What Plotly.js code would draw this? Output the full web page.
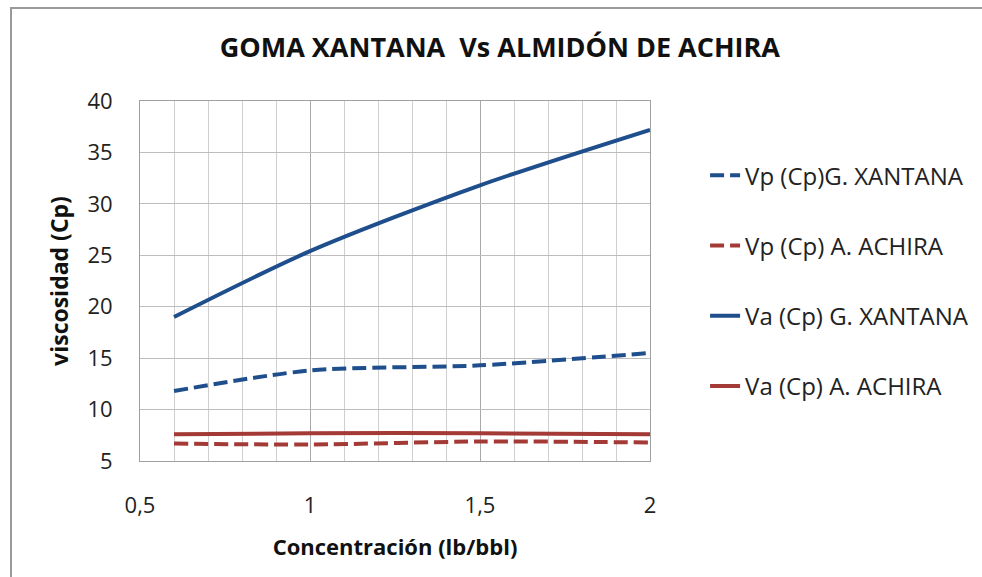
<!DOCTYPE html>
<html>
<head>
<meta charset="utf-8">
<script src="https://cdn.plot.ly/plotly-3.0.1.min.js"></script>
<style>
  html, body { margin: 0; padding: 0; background: #ffffff; }
  #wrap { position: relative; width: 982px; height: 577px; overflow: hidden; }
  #chart { position: absolute; left: 0; top: 0; width: 982px; height: 577px; }
  #frame { position: absolute; left: 10px; top: 7px; width: 990px; height: 600px;
           border-left: 2px solid #9a9a9a; border-top: 2px solid #9a9a9a; pointer-events: none; }
</style>
</head>
<body>
<div id="wrap">
  <div id="chart"></div>
  <div id="frame"></div>
</div>
<script>
// Data
const concentracion = [0.6, 1.0, 1.5, 2.0];
const vpXantana = [11.8, 13.8, 14.3, 15.5];
const vpAchira  = [6.7, 6.6, 6.9, 6.8];
const vaXantana = [19.0, 25.4, 31.8, 37.2];
const vaAchira  = [7.6, 7.7, 7.7, 7.6];
const seriesNames = ["Vp (Cp)G. XANTANA", "Vp (Cp) A. ACHIRA", "Va (Cp) G. XANTANA", "Va (Cp) A. ACHIRA"];
const xTicks = [0.5, 1, 1.5, 2];
const yTicks = [5, 10, 15, 20, 25, 30, 35, 40];

const BLUE = "#1f4e8c";
const RED = "#a33a35";
const FONT = "'Open Sans', Lato, sans-serif";

function trace(y, name, color, dash, grp) {
  return {
    x: concentracion, y: y, name: name, type: "scatter", mode: "lines",
    legendgroup: grp,
    line: { color: color, width: 4, dash: dash, shape: "spline", smoothing: 0.8 },
    hoverinfo: "skip"
  };
}

const data = [
  trace(vpXantana, seriesNames[0], BLUE, "14px,6px", "a"),
  trace(vpAchira,  seriesNames[1], RED,  "14px,6px", "b"),
  trace(vaXantana, seriesNames[2], BLUE, "solid", "c"),
  trace(vaAchira,  seriesNames[3], RED,  "solid", "d")
];

const layout = {
  width: 982, height: 577,
  margin: { l: 140, r: 332, t: 101, b: 116, pad: 0, autoexpand: false },
  paper_bgcolor: "#ffffff", plot_bgcolor: "#ffffff",
  separators: ",.",
  font: { family: FONT, size: 18, color: "#222222" },
  title: {
    text: "<b>GOMA XANTANA  Vs ALMIDÓN DE ACHIRA</b>",
    font: { family: FONT, size: 27, color: "#111111" },
    x: 0.509, xanchor: "center", y: 0.918, yanchor: "middle", xref: "container", yref: "container"
  },
  xaxis: {
    range: [0.5, 2], tickvals: xTicks, ticks: "", ticklabelstandoff: 25,
    showgrid: true, gridcolor: "#a9a9a9", gridwidth: 1,
    minor: { dtick: 0.1, showgrid: true, gridcolor: "#cfcfcf", gridwidth: 1, ticks: "" },
    showline: true, linecolor: "#a0a0a0", linewidth: 1, mirror: true,
    zeroline: false, fixedrange: true,
    tickfont: { family: FONT, size: 22, color: "#222222" },
    title: { text: "<b>Concentración (lb/bbl)</b>", font: { family: FONT, size: 22, color: "#111111" }, standoff: 21 }
  },
  yaxis: {
    range: [5, 40], tickvals: yTicks, ticks: "", ticklabelstandoff: 22,
    showgrid: true, gridcolor: "#bdbdbd", gridwidth: 1,
    showline: true, linecolor: "#a0a0a0", linewidth: 1, mirror: true,
    zeroline: false, fixedrange: true,
    tickfont: { family: FONT, size: 22, color: "#222222" },
    title: { text: "<b>viscosidad (Cp)</b>", font: { family: FONT, size: 23, color: "#111111" }, standoff: 12 }
  },
  showlegend: true,
  legend: {
    x: 1.108, xanchor: "left", y: 0.855, yanchor: "top",
    font: { family: FONT, size: 24, color: "#222222" },
    tracegroupgap: 36, traceorder: "grouped",
    bgcolor: "rgba(0,0,0,0)", borderwidth: 0, itemwidth: 30
  }
};

Plotly.newPlot("chart", data, layout, { displayModeBar: false, staticPlot: true });
</script>
</body>
</html>
